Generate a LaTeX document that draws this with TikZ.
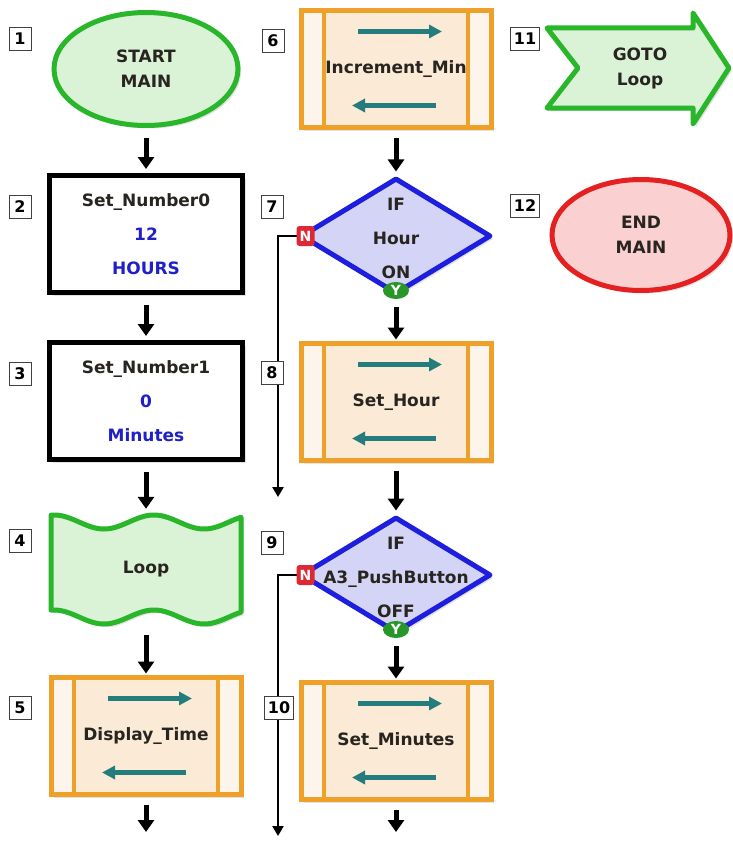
\documentclass[tikz,border=0pt]{standalone}
\usepackage{fontspec}
\setmainfont{DejaVu Sans}
\usetikzlibrary{shapes.geometric,arrows.meta,shadows,calc}

\definecolor{txt}{RGB}{40,36,32}
\definecolor{numblue}{RGB}{32,32,200}
\definecolor{startgreen}{RGB}{42,182,42}
\definecolor{startfill}{RGB}{218,242,214}
\definecolor{suborange}{RGB}{238,160,40}
\definecolor{subfill}{RGB}{250,234,214}
\definecolor{subside}{RGB}{253,245,235}
\definecolor{tealar}{RGB}{36,124,124}
\definecolor{decblue}{RGB}{30,30,222}
\definecolor{decfill}{RGB}{212,212,246}
\definecolor{endred}{RGB}{228,32,32}
\definecolor{endfill}{RGB}{250,208,208}
\definecolor{badgered}{RGB}{222,40,52}
\definecolor{badgegreen}{RGB}{40,150,40}

% side strips, inner bars and the two data-flow arrows of a subroutine box
\newcommand\subdeco[1]{%
  \fill[subside] ($(#1.north west)+(2.5,2.5)$) rectangle ($(#1.south west)+(23,-2.5)$);
  \fill[subside] ($(#1.north east)+(-2.5,2.5)$) rectangle ($(#1.south east)+(-23,-2.5)$);
  \draw[subline] ($(#1.north west)+(23,0)$) -- ($(#1.south west)+(23,0)$);
  \draw[subline] ($(#1.north east)+(-23,0)$) -- ($(#1.south east)+(-23,0)$);
  \draw[tealarrow] ($(#1.north)+(-38,21)$) -- ($(#1.north)+(46,21)$);
  \draw[tealarrow] ($(#1.south)+(40,-22)$) -- ($(#1.south)+(-44,-22)$);
}

\begin{document}
\begin{tikzpicture}[x=1pt,y=-1pt,
  every node/.style={inner sep=0pt},
  softshadow/.style={drop shadow={shadow xshift=3pt,shadow yshift=-3pt,opacity=0.22}},
  terminal/.style={ellipse, line width=5pt, align=center, softshadow,
    font=\bfseries\fontsize{17}{25}\selectfont, text=txt},
  setbox/.style={rectangle, draw=black, line width=5pt, fill=white,
    minimum width=193, minimum height=117, align=center, softshadow,
    font=\bfseries\fontsize{17}{34}\selectfont, text=txt},
  subbox/.style={rectangle, draw=suborange, line width=5pt, fill=subfill, outer sep=0pt,
    minimum width=190, minimum height=117, softshadow,
    font=\bfseries\fontsize{17}{20}\selectfont, text=txt},
  subline/.style={draw=suborange, line width=4pt},
  tealarrow/.style={draw=tealar, line width=5pt, -{Triangle[length=13pt,width=13pt]}},
  decision/.style={diamond, draw=decblue, fill=decfill, line width=5pt,
    minimum width=190, minimum height=116, line join=round, softshadow},
  dectext/.style={align=center, font=\bfseries\fontsize{17}{34}\selectfont, text=txt},
  plaintext/.style={align=center, font=\bfseries\fontsize{17}{25}\selectfont, text=txt},
  flow/.style={draw=black, line width=5pt, -{Triangle[length=12pt,width=16pt]},
    shorten <=10pt, shorten >=4pt},
  nline/.style={draw=black, line width=2.8pt, -{Triangle[length=10pt,width=11pt]}},
  badge/.style={minimum width=18, minimum height=20, rounded corners=3pt,
    text=white, font=\bfseries\fontsize{14}{14}\selectfont},
  numlabel/.style={draw=black!75, line width=1pt, fill=white, minimum width=22,
    minimum height=23, inner xsep=3pt, font=\bfseries\fontsize{16}{16}\selectfont, text=black}
]
\useasboundingbox (0,0) rectangle (733,843);

% ---------- column 1 ----------
\node[terminal, draw=startgreen, fill=startfill, minimum width=184, minimum height=113]
  (start) at (146,69) {START\\MAIN};
\node[setbox] (set0) at (146,234)
  {Set\_Number0\\\textcolor{numblue}{12}\\\textcolor{numblue}{HOURS}};
\node[setbox] (set1) at (146,401)
  {Set\_Number1\\\textcolor{numblue}{0}\\\textcolor{numblue}{Minutes}};

% wavy "Loop" label block
\path[draw=startgreen, fill=startfill, line width=5pt, line join=round, softshadow]
  plot[domain=51:241, samples=80] (\x,{522-7*cos((\x-54)*3.6)})
  -- plot[domain=241:51, samples=80] (\x,{617-7*cos((\x-54)*3.6)}) -- cycle;
\node[plaintext, minimum width=190, minimum height=112] (loop) at (146,569) {Loop};

\node[subbox] (disp) at (146,736) {Display\_Time};
\subdeco{disp}
\coordinate (c1end) at (146,836);

% ---------- column 2 ----------
\node[subbox] (inc) at (396,69) {Increment\_Min};
\subdeco{inc}

\node[decision] (d7) at (396,236) {};
\node[dectext] (d7t) at (396,238) {IF\\Hour\\ON};

\node[subbox] (sethour) at (396,402) {Set\_Hour};
\subdeco{sethour}

\node[decision] (d9) at (396,575) {};
\node[dectext] (d9t) at (396,577) {IF\\A3\_PushButton\\OFF};

\node[subbox] (setmin) at (396,741) {Set\_Minutes};
\subdeco{setmin}
\coordinate (c2end) at (396,836);

% "no" branches
\coordinate (n7end) at (278,497);
\coordinate (n9end) at (278,836);
\draw[nline] (d7.west) -| (n7end);
\draw[nline] (d9.west) -| (n9end);

\node[badge, fill=badgered] (n7) at ($(d7.west)+(7,0)$) {N};
\node[badge, fill=badgered] (n9) at ($(d9.west)+(7,0)$) {N};
\node[badge, ellipse, fill=badgegreen, minimum width=26, minimum height=17] (y7) at ($(d7.south)+(0,-6)$) {Y};
\node[badge, ellipse, fill=badgegreen, minimum width=26, minimum height=17] (y9) at ($(d9.south)+(0,-6)$) {Y};

% ---------- column 3 ----------
\path[draw=startgreen, fill=startfill, line width=5pt, line join=round, softshadow]
  (547,28) -- (693,28) -- (693,13) -- (729,68) -- (693,124) -- (693,108)
  -- (547,108) -- (578,68) -- cycle;
\node[plaintext] (goto) at (640,68) {GOTO\\Loop};

\node[terminal, draw=endred, fill=endfill, minimum width=178, minimum height=111]
  (endmain) at (641,235) {END\\MAIN};

% ---------- flow arrows ----------
\draw[flow] (start) -- (set0);
\draw[flow] (set0) -- (set1);
\draw[flow] (set1) -- (loop);
\draw[flow] (loop) -- (disp);
\draw[flow] (disp) -- (c1end);
\draw[flow] (inc) -- (d7);
\draw[flow] (d7) -- (sethour);
\draw[flow] (sethour) -- (d9);
\draw[flow] (d9) -- (setmin);
\draw[flow] (setmin) -- (c2end);

% ---------- step numbers ----------
\node[numlabel] (l1) at (20,39) {1};
\node[numlabel] (l2) at (20,207) {2};
\node[numlabel] (l3) at (20,374) {3};
\node[numlabel] (l4) at (20,541) {4};
\node[numlabel] (l5) at (20,708) {5};
\node[numlabel] (l6) at (273,41) {6};
\node[numlabel] (l7) at (272,207) {7};
\node[numlabel] (l8) at (272,373) {8};
\node[numlabel] (l9) at (272,543) {9};
\node[numlabel] (l10) at (279,708) {10};
\node[numlabel] (l11) at (525,39) {11};
\node[numlabel] (l12) at (525,206) {12};
\end{tikzpicture}
\end{document}
